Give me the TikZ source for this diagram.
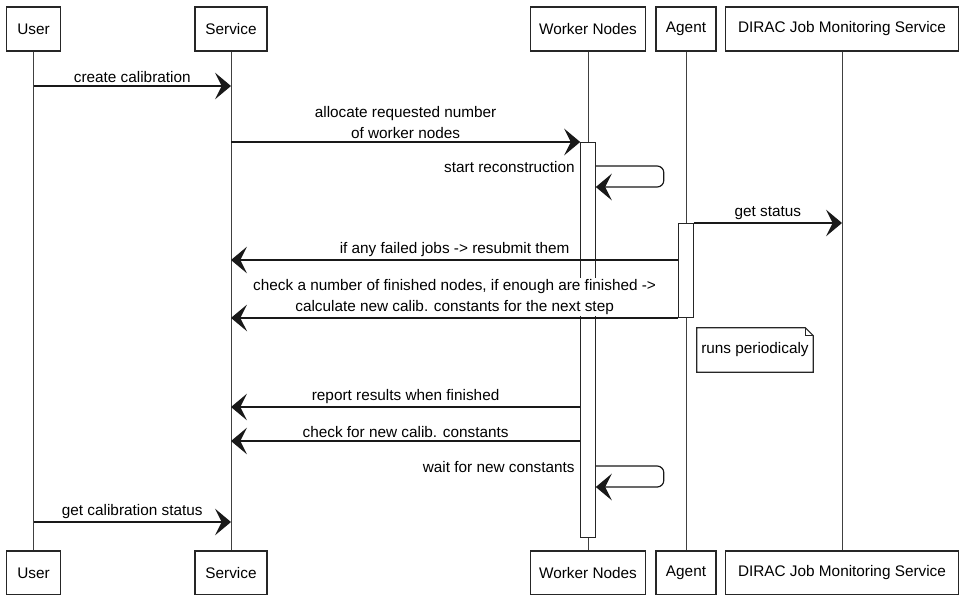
\documentclass[tikz,border=0pt]{standalone}
\usepackage{fontspec}
\setmainfont{Liberation Sans}
\usetikzlibrary{positioning, arrows.meta}

\begin{document}
\begin{tikzpicture}[
  x=0.75pt, y=-0.75pt,
  font=\fontsize{11.5}{16}\selectfont,
  >={Stealth[length=12pt, width=20pt, inset=5pt]},
  partbox/.style={rectangle, draw=black!85, fill=white, line width=0.8pt, minimum height=33pt, inner sep=2pt, align=center},
  actbox/.style={rectangle, draw=black!85, fill=white, line width=0.7pt, minimum width=11pt, inner sep=0pt, anchor=north},
  lifeline/.style={draw=black!75, line width=0.6pt},
  msgarrow/.style={->, draw=black!90, line width=0.9pt},
  selfarrow/.style={->, draw=black!90, line width=0.9pt, rounded corners=5pt},
  msglabel/.style={midway, above=1pt, align=center, inner sep=1pt, fill=white},
  selflabel/.style={anchor=east, inner sep=1pt},
  notebox/.style={rectangle, minimum width=87pt, minimum height=33pt, inner sep=2pt},
  noteline/.style={draw=black!85, line width=0.8pt}
]
\useasboundingbox (0,0) rectangle (960,594);

% Participants (top)
\node[partbox, minimum width=40pt] (UserTop) at (33.5,29) {User};
\node[partbox, minimum width=54pt] (ServiceTop) at (231,29) {Service};
\node[partbox, minimum width=86pt] (WorkerTop) at (588,29) {Worker Nodes};
\node[partbox, minimum width=45pt] (AgentTop) at (686,29) {Agent};
\node[partbox, minimum width=175pt] (DiracTop) at (842,29) {DIRAC Job Monitoring Service};

% Participants (bottom)
\node[partbox, minimum width=40pt] (UserBot) at (33.5,573) {User};
\node[partbox, minimum width=54pt] (ServiceBot) at (231,573) {Service};
\node[partbox, minimum width=86pt] (WorkerBot) at (588,573) {Worker Nodes};
\node[partbox, minimum width=45pt] (AgentBot) at (686,573) {Agent};
\node[partbox, minimum width=175pt] (DiracBot) at (842,573) {DIRAC Job Monitoring Service};

% Lifelines
\draw[lifeline] (UserTop) -- (UserBot);
\draw[lifeline] (ServiceTop) -- (ServiceBot);
\draw[lifeline] (WorkerTop) -- (WorkerBot);
\draw[lifeline] (AgentTop) -- (AgentBot);
\draw[lifeline] (DiracTop) -- (DiracBot);

% Activations
\node[actbox, minimum height=296pt] (WorkAct) at (WorkerTop |- 0,142) {};
\node[actbox, minimum height=70.5pt] (AgentAct) at (AgentTop |- 0,223) {};

% Messages
\draw[msgarrow] (UserTop |- 0,86) -- (ServiceTop |- 0,86)
  node[msglabel] (lblCreate) {create calibration};
\draw[msgarrow] (ServiceTop |- 0,142) -- (WorkAct.north west)
  node[msglabel] (lblAlloc) {allocate requested number\\of worker nodes};
\draw[selfarrow] (WorkAct.east |- 0,166) -- ++(68,0) -- ++(0,21) -- (WorkAct.east |- 0,187);
\node[selflabel] (lblStart) at ([xshift=-3pt]WorkAct.west |- 0,167) {start reconstruction};
\draw[msgarrow] (AgentAct.north east) -- (DiracTop |- 0,223)
  node[msglabel] (lblStatus) {get status};
\draw[msgarrow] (AgentAct.west |- 0,260) -- (ServiceTop |- 0,260)
  node[msglabel] (lblFailed) {if any failed jobs -> resubmit them};
\draw[msgarrow] (AgentAct.south west) -- (ServiceTop |- AgentAct.south)
  node[msglabel] (lblCheck) {check a number of finished nodes, if enough are finished ->\\calculate new calib. constants for the next step};

% Note
\node[notebox] (NoteRuns) at (755,350) {runs periodicaly};
\draw[noteline] (NoteRuns.north west) -- ([xshift=-6pt]NoteRuns.north east) -- ([yshift=-6pt]NoteRuns.north east)
  -- (NoteRuns.south east) -- (NoteRuns.south west) -- cycle;
\draw[noteline] ([xshift=-6pt]NoteRuns.north east) |- ([yshift=-6pt]NoteRuns.north east);

\draw[msgarrow] (WorkAct.west |- 0,407) -- (ServiceTop |- 0,407)
  node[msglabel] (lblReport) {report results when finished};
\draw[msgarrow] (WorkAct.west |- 0,441) -- (ServiceTop |- 0,441)
  node[msglabel] (lblNew) {check for new calib. constants};
\draw[selfarrow] (WorkAct.east |- 0,466) -- ++(68,0) -- ++(0,21) -- (WorkAct.east |- 0,487);
\node[selflabel] (lblWait) at ([xshift=-3pt]WorkAct.west |- 0,467) {wait for new constants};
\draw[msgarrow] (UserTop |- 0,522) -- (ServiceTop |- 0,522)
  node[msglabel] (lblGet) {get calibration status};

\end{tikzpicture}
\end{document}
